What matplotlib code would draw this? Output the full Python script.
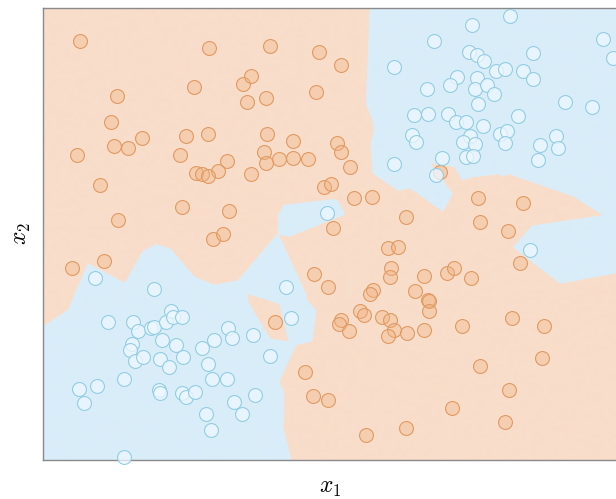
import numpy as np
import matplotlib
matplotlib.use("Agg")
import matplotlib.pyplot as plt
from matplotlib.colors import ListedColormap

plt.rcParams['mathtext.fontset'] = 'cm'

# Class 0 (orange) sample coordinates
orange_x = [37, 166, 227, 276, 298, 74, 151, 200, 208, 204, 223, 273, 68, 99, 71, 85, 34,
            143, 165, 137, 224, 250, 221, 223, 236, 250, 265, 184, 175, 153, 159, 165, 208,
            57, 139, 186, 75, 170, 180, 294, 298, 307, 281, 288, 311, 329, 290, 363, 345,
            355, 435, 480, 437, 465, 397, 29, 61, 232, 271, 285, 262, 270, 285, 348, 347,
            381, 404, 411, 428, 330, 327, 372, 385, 386, 386, 317, 321, 298, 296, 306, 339,
            347, 351, 345, 364, 381, 419, 437, 409, 363, 323, 466, 462, 469, 501, 499, 477]
orange_y = [419, 412, 414, 408, 395, 364, 373, 376, 384, 358, 362, 368, 338, 322, 314, 312, 305,
            324, 326, 305, 326, 319, 308, 297, 301, 302, 301, 299, 289, 287, 286, 284, 286,
            275, 253, 249, 240, 221, 226, 317, 308, 293, 273, 276, 262, 263, 232, 243, 212,
            213, 262, 257, 238, 229, 288, 192, 199, 138, 186, 173, 88, 64, 60, 192, 183,
            184, 187, 192, 182, 170, 166, 169, 160, 159, 149, 149, 145, 140, 136, 129, 143,
            140, 130, 124, 127, 130, 134, 94, 52, 32, 25, 70, 38, 142, 134, 102, 197]

# Class 1 (blue) sample coordinates
blue_x = [467, 429, 391, 351, 426, 434, 441, 453, 462, 480, 490, 490, 560, 570, 414, 407,
          434, 432, 444, 451, 435, 384, 371, 385, 405, 413, 423, 440, 475, 522, 549, 369,
          373, 427, 420, 432, 423, 430, 457, 464, 462, 513, 515, 497, 495, 399, 351, 393,
          284, 487, 52, 111, 65, 90, 95, 108, 111, 123, 128, 130, 139, 119, 133, 89, 87,
          92, 100, 117, 126, 140, 159, 171, 185, 189, 210, 165, 169, 184, 81, 36, 54, 41,
          116, 117, 139, 143, 152, 191, 212, 199, 163, 168, 81, 243, 248, 227]
blue_y = [444, 435, 419, 393, 408, 405, 399, 389, 391, 389, 407, 381, 421, 402, 383, 375,
          382, 371, 375, 366, 356, 371, 345, 346, 346, 338, 338, 334, 344, 358, 353, 325,
          318, 324, 318, 316, 303, 304, 326, 329, 317, 324, 312, 315, 300, 302, 296, 285,
          247, 210, 182, 171, 138, 138, 129, 132, 133, 138, 149, 143, 143, 120, 115, 116, 110,
          99, 103, 101, 93, 103, 112, 120, 132, 122, 125, 96, 81, 81, 81, 71, 74, 57,
          70, 67, 67, 63, 68, 58, 65, 46, 46, 30, 3, 173, 142, 104]

x_range = (0, 574)
y_range = (0, 452)
x_label = '$x_1$'
y_label = '$x_2$'

region_colors = ['#F8DDCA', '#D9EDF9']

fig = plt.figure(figsize=(6.16, 4.99), dpi=100)
ax = fig.add_axes([43 / 616, 39 / 499, 574 / 616, 452 / 499])

# 1-nearest-neighbour decision regions computed from the samples
gx = np.linspace(x_range[0], x_range[1], 1149)
gy = np.linspace(y_range[0], y_range[1], 905)
GX, GY = np.meshgrid(gx, gy)
d_or = np.full(GX.shape, np.inf)
d_bl = np.full(GX.shape, np.inf)
for px, py in zip(orange_x, orange_y):
    d_or = np.minimum(d_or, (GX - px) ** 2 + (GY - py) ** 2)
for px, py in zip(blue_x, blue_y):
    d_bl = np.minimum(d_bl, (GX - px) ** 2 + (GY - py) ** 2)
label = (d_bl < d_or).astype(float)
ax.imshow(label, extent=(x_range[0], x_range[1], y_range[0], y_range[1]), origin='lower',
          cmap=ListedColormap(region_colors), vmin=0, vmax=1, aspect='auto', zorder=0)

ax.scatter(orange_x, orange_y, s=100, facecolor=(0.95, 0.70, 0.50, 0.35),
           edgecolor='#E19A62', linewidth=0.8, clip_on=False, zorder=3)
ax.scatter(blue_x, blue_y, s=100, facecolor=(0.93, 0.97, 1.0, 0.75),
           edgecolor='#93CDE3', linewidth=0.8, clip_on=False, zorder=3)

ax.set_xlim(*x_range)
ax.set_ylim(*y_range)
ax.set_xticks([])
ax.set_yticks([])
for s in ax.spines.values():
    s.set_color('#8a8a8a')
    s.set_linewidth(1.0)
ax.set_xlabel(x_label, fontsize=17, labelpad=11)
ax.set_ylabel(y_label, fontsize=17, labelpad=7)

fig.savefig('out.png', dpi=100)
